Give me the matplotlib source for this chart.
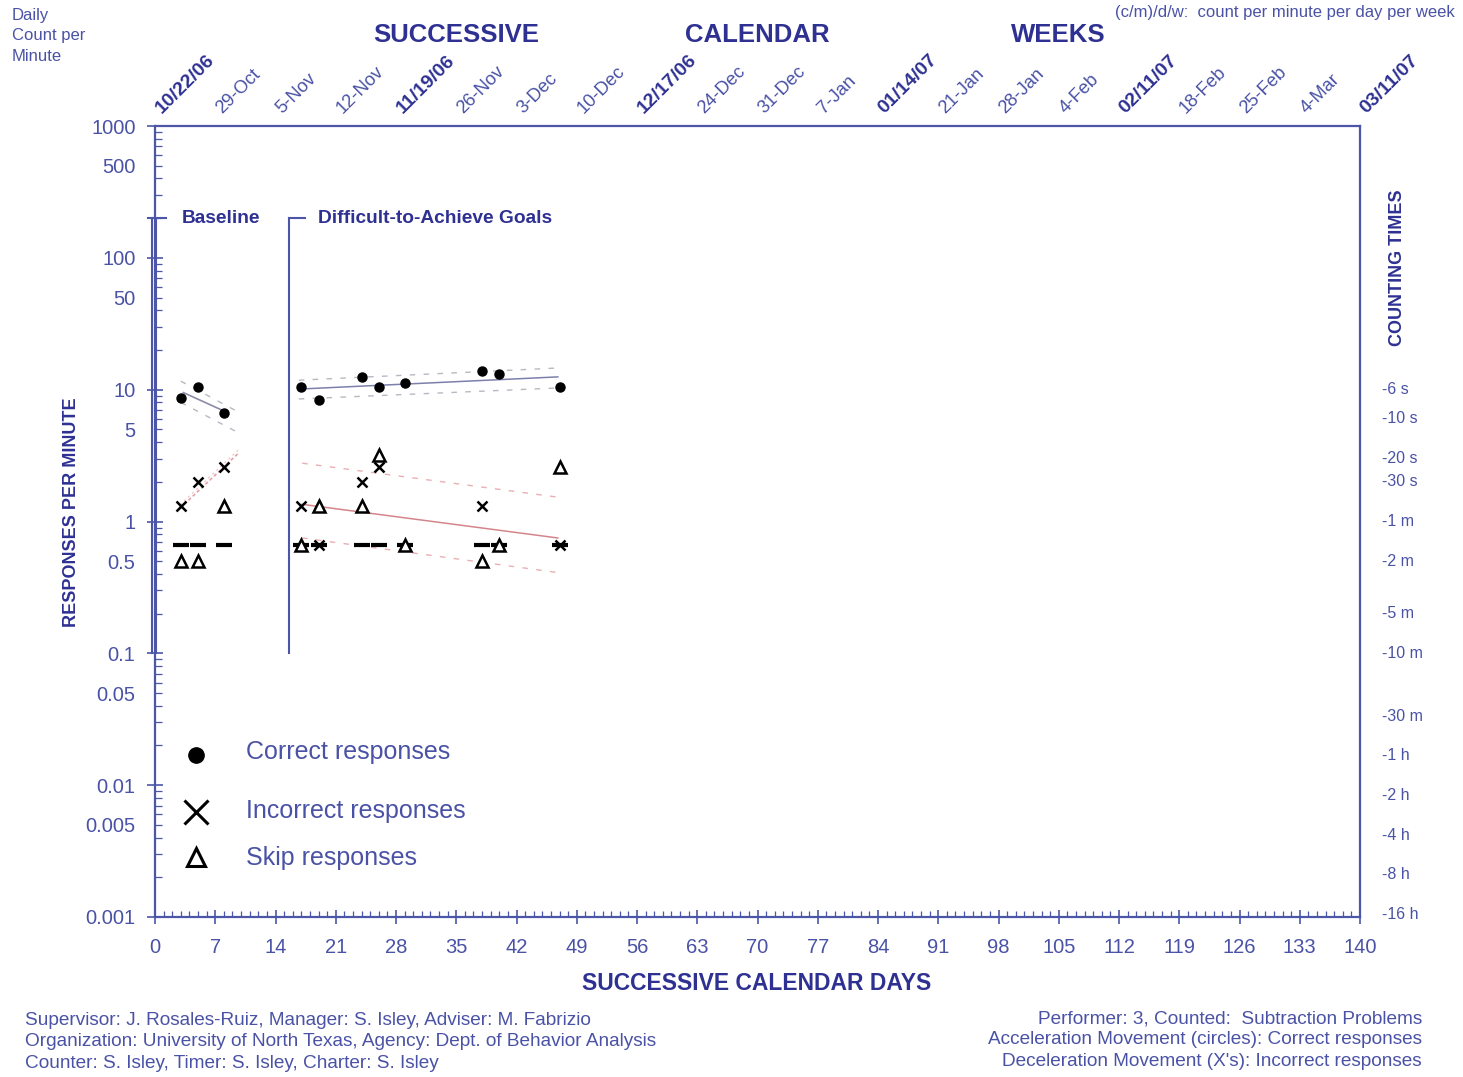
import matplotlib
matplotlib.use("Agg")
import matplotlib.pyplot as plt
from matplotlib.ticker import FixedLocator, FuncFormatter
from matplotlib.transforms import blended_transform_factory

plt.rcParams['font.family'] = ['Liberation Sans', 'DejaVu Sans']

# ---- data ----
record_floor = 1 / 1.5          # 90 s counting time -> 0.667 / min

days_bl = [3, 5, 8]
correct_bl = [8.6, 10.5, 6.6]
incorrect_bl = [1.3, 2.0, 2.6]
skip_bl = [0.5, 0.5, 1.3]

days_tx = [17, 19, 24, 26, 29, 38, 40, 47]
correct_tx = [10.5, 8.4, 12.4, 10.5, 11.2, 13.8, 13.1, 10.5]
incorrect_tx = [1.3, record_floor, 2.0, 2.6, None, 1.3, None, record_floor]
skip_tx = [record_floor, 1.3, 1.3, 3.2, record_floor, 0.5, record_floor, 2.6]

# celeration lines (start / end) and bounce envelopes
cel_bl_correct_days = [3.3, 8.2]
cel_bl_correct = [9.5, 6.8]
bnc_bl_correct_days = [3, 10]
bnc_bl_correct_hi = [11.6, 6.6]
bnc_bl_correct_lo = [8.0, 4.6]
cel_bl_incorrect_days = [2.9, 9.7]
cel_bl_incorrect = [1.26, 3.3]

cel_tx_correct_days = [16.7, 46.8]
cel_tx_correct = [10.1, 12.5]
cel_tx_correct_hi = [11.8, 14.6]
cel_tx_correct_lo = [8.5, 10.3]
cel_tx_incorrect_days = [17.1, 46.8]
cel_tx_incorrect = [1.35, 0.75]
cel_tx_incorrect_hi = [2.77, 1.53]
cel_tx_incorrect_lo = [0.75, 0.41]

phase_days = [-0.35, 15.57]
phase_names = ['Baseline', 'Difficult-to-Achieve Goals']

week_days = list(range(0, 141, 7))
week_labels = ['10/22/06', '29-Oct', '5-Nov', '12-Nov', '11/19/06', '26-Nov', '3-Dec',
               '10-Dec', '12/17/06', '24-Dec', '31-Dec', '7-Jan', '01/14/07', '21-Jan',
               '28-Jan', '4-Feb', '02/11/07', '18-Feb', '25-Feb', '4-Mar', '03/11/07']

count_time_min = [0.1, 1 / 6, 1 / 3, 0.5, 1, 2, 5, 10, 30, 60, 120, 240, 480, 960]
count_time_labels = ['-6 s', '-10 s', '-20 s', '-30 s', '-1 m', '-2 m', '-5 m', '-10 m',
                     '-30 m', '-1 h', '-2 h', '-4 h', '-8 h', '-16 h']

navy = '#2e3192'
blue = '#4a52a6'
axcol = '#4b56a8'

fig = plt.figure(figsize=(14.63, 10.77), dpi=100)
ax = fig.add_axes([155 / 1463, 1 - 917 / 1077, 1205 / 1463, 791 / 1077])
ax.set_yscale('log')
ax.set_xlim(0, 140)
ax.set_ylim(0.001, 1000)

for s in ax.spines.values():
    s.set_color(axcol)
    s.set_linewidth(1.6)

# x ticks
ax.xaxis.set_major_locator(FixedLocator(week_days))
ax.xaxis.set_minor_locator(FixedLocator(range(0, 141)))
ax.tick_params(axis='x', which='major', direction='inout', length=10, width=1.2,
               color=axcol, labelcolor=blue, labelsize=14.5, pad=10)
ax.tick_params(axis='x', which='minor', direction='in', length=4, width=0.9, color=axcol)

# y ticks
decades = [10.0 ** e for e in range(-3, 4)]
minors = [m * d for d in decades[:-1] for m in range(2, 10)]
ax.yaxis.set_major_locator(FixedLocator(decades))
ax.yaxis.set_minor_locator(FixedLocator(minors))
ax.yaxis.set_major_formatter(FuncFormatter(lambda v, p: '%g' % v))
ax.yaxis.set_minor_formatter(FuncFormatter(
    lambda v, p: ('%g' % v) if ('%g' % v).lstrip('0.').startswith('5') else ''))
ax.tick_params(axis='y', which='major', direction='inout', length=12, width=1.2,
               color=axcol, labelcolor=blue, labelsize=14.5, pad=8)
ax.tick_params(axis='y', which='minor', direction='in', length=5, width=0.9,
               color=axcol, labelcolor=blue, labelsize=14.5, pad=14)

# phase change lines
for d, name in zip(phase_days, phase_names):
    ax.plot([d, d], [0.1, 200], color=axcol, lw=1.5, clip_on=False)
    if d < 1:
        ax.plot([d - 0.5, d + 1.6], [200, 200], color=axcol, lw=1.5, clip_on=False)
        ax.plot([d + 0.5, d + 0.5], [0.1, 200], color=axcol, lw=0.8, clip_on=False)
    else:
        ax.plot([d, d + 1.8], [200, 200], color=axcol, lw=1.5, clip_on=False)
    ax.text(d + 3.4, 200, name, color=navy, fontsize=13.8, fontweight='bold',
            va='center', ha='left')

# celeration lines
ax.plot(cel_bl_correct_days, cel_bl_correct, color='#8a8ca8', lw=1.2)
ax.plot(bnc_bl_correct_days, bnc_bl_correct_hi, color='#b8b8c4', lw=1, ls=(0, (4, 6)))
ax.plot(bnc_bl_correct_days, bnc_bl_correct_lo, color='#b8b8c4', lw=1, ls=(0, (4, 6)))
ax.plot(cel_bl_incorrect_days, cel_bl_incorrect, color='#e3a0a8', lw=1.2, ls=(0, (2, 1.5)))
ax.plot(cel_bl_incorrect_days, [v * 1.06 for v in cel_bl_incorrect], color='#eec0c4',
        lw=0.8, ls=(0, (2, 3)))

ax.plot(cel_tx_correct_days, cel_tx_correct, color='#7c80aa', lw=1.1)
ax.plot(cel_tx_correct_days, cel_tx_correct_hi, color='#b8b8c4', lw=1, ls=(0, (4, 6)))
ax.plot(cel_tx_correct_days, cel_tx_correct_lo, color='#b8b8c4', lw=1, ls=(0, (4, 6)))
ax.plot(cel_tx_incorrect_days, cel_tx_incorrect, color='#d4858c', lw=1.1)
ax.plot(cel_tx_incorrect_days, cel_tx_incorrect_hi, color='#e8b0b4', lw=1, ls=(0, (4, 6)))
ax.plot(cel_tx_incorrect_days, cel_tx_incorrect_lo, color='#e8b0b4', lw=1, ls=(0, (4, 6)))

# record floor dashes
all_days = days_bl + days_tx
ax.plot(all_days, [record_floor] * len(all_days), ls='none', marker='_',
        ms=11, mew=3, color='black')

# data points
for days, cor, inc, skp in [(days_bl, correct_bl, incorrect_bl, skip_bl),
                            (days_tx, correct_tx, incorrect_tx, skip_tx)]:
    ax.plot(days, cor, ls='none', marker='o', ms=6.5, color='black')
    di = [d for d, v in zip(days, inc) if v is not None]
    vi = [v for v in inc if v is not None]
    ax.plot(di, vi, ls='none', marker='x', ms=6.5, mew=1.8, color='black')
    ax.plot(days, skp, ls='none', marker='^', ms=8, mew=1.8, mfc='white',
            mec='black')

# legend
leg_items = [('o', 'Correct responses', 0.205, 0.2086, dict(ms=11, color='black')),
             ('x', 'Incorrect responses', 0.133, 0.134, dict(ms=17, mew=2.2, color='black')),
             ('^', 'Skip responses', 0.076, 0.0746,
              dict(ms=13, mew=2.2, mfc='white', mec='black'))]
for mk, lab, ym, yt, kw in leg_items:
    ax.plot([0.034], [ym], marker=mk, ls='none', transform=ax.transAxes, **kw)
    ax.text(0.0755, yt, lab, transform=ax.transAxes, color=blue, fontsize=18,
            va='center', ha='left')

# right counting-time labels
tr = blended_transform_factory(ax.transAxes, ax.transData)
for t, lab in zip(count_time_min, count_time_labels):
    ax.text(1.0185, 1 / t, lab, transform=tr, color=blue, fontsize=11.5,
            va='center', ha='left')

# top date labels
trx = blended_transform_factory(ax.transData, ax.transAxes)
for i, (d, lab) in enumerate(zip(week_days, week_labels)):
    bold = (i % 4 == 0)
    ax.text(d + 1.1, 1.012, lab, transform=trx, rotation=45, rotation_mode='anchor',
            ha='left', va='bottom', fontsize=14 if bold else 13.2,
            fontweight='bold' if bold else 'normal', color=navy if bold else blue)

for d, word in zip([35, 70, 105], ['SUCCESSIVE', 'CALENDAR', 'WEEKS']):
    fig.text((155 + d * 1205 / 140) / 1463, 1 - 35 / 1077, word, ha='center',
             va='center', fontsize=18.5, fontweight='bold', color=navy)

fig.text(757 / 1463, 1 - 983 / 1077, 'SUCCESSIVE CALENDAR DAYS', ha='center',
         va='center', fontsize=16.5, fontweight='bold', color=navy)
fig.text(72 / 1463, 1 - 512 / 1077, 'RESPONSES PER MINUTE', rotation=90, ha='center',
         va='center', fontsize=13, fontweight='bold', color=navy)
fig.text(1397 / 1463, 1 - 268 / 1077, 'COUNTING TIMES', rotation=90, ha='center',
         va='center', fontsize=13, fontweight='bold', color=navy)

fig.text(12 / 1463, 1 - 8 / 1077, 'Daily\nCount per\nMinute', ha='left', va='top',
         fontsize=12, color=blue, linespacing=1.45)
fig.text(1455 / 1463, 1 - 12 / 1077, '(c/m)/d/w:  count per minute per day per week',
         ha='right', va='center', fontsize=12, color=blue)

fig.text(25 / 1463, 1 - 1012 / 1077,
         'Supervisor: J. Rosales-Ruiz, Manager: S. Isley, Adviser: M. Fabrizio\n'
         'Organization: University of North Texas, Agency: Dept. of Behavior Analysis\n'
         'Counter: S. Isley, Timer: S. Isley, Charter: S. Isley',
         ha='left', va='top', fontsize=13.7, color=blue, linespacing=1.33)
fig.text(1422 / 1463, 1 - 1010 / 1077,
         'Performer: 3, Counted:  Subtraction Problems\n'
         'Acceleration Movement (circles): Correct responses\n'
         'Deceleration Movement (X\'s): Incorrect responses',
         ha='right', va='top', fontsize=13.7, color=blue, linespacing=1.33,
         multialignment='right')

fig.savefig('out.png', dpi=100)
